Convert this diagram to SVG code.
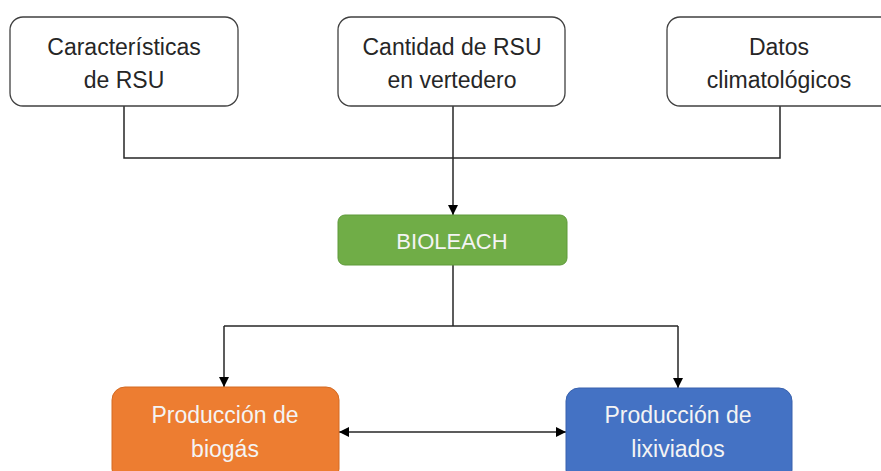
<svg xmlns="http://www.w3.org/2000/svg" width="881" height="471" viewBox="0 0 881 471">
<style>
.in{fill:#ffffff;stroke:#404040;stroke-width:1.3}
.t{font-family:"Liberation Sans",Arial,sans-serif;font-size:23px;text-anchor:middle;fill:#262626}
.w{fill:#f4f4f4}
.c{fill:none;stroke:#262626;stroke-width:1.5}
</style>
<defs>
<marker id="ah" viewBox="0 0 10 10" refX="10" refY="5" markerWidth="10" markerHeight="10" markerUnits="userSpaceOnUse" orient="auto-start-reverse">
<path d="M0,0 L10,5 L0,10 Z" fill="#000"/>
</marker>
</defs>
<rect width="881" height="471" fill="#fff"/>
<g id="connectors">
<path class="c" d="M124,106 V158 H780 V106"/>
<path class="c" d="M453,106 V215" marker-end="url(#ah)"/>
<path class="c" d="M453,265 V326"/>
<path class="c" d="M224,326 H678"/>
<path class="c" d="M224,326 V387" marker-end="url(#ah)"/>
<path class="c" d="M678,326 V388" marker-end="url(#ah)"/>
<path class="c" d="M339,432 H566" marker-start="url(#ah)" marker-end="url(#ah)"/>
</g>
<g id="caracteristicas">
<rect class="in" x="10" y="17" width="228" height="89" rx="13"/>
<text class="t" x="124" y="55">Características</text>
<text class="t" x="124" y="88">de RSU</text>
</g>
<g id="cantidad">
<rect class="in" x="338" y="17" width="227" height="89" rx="13"/>
<text class="t" x="452" y="55">Cantidad de RSU</text>
<text class="t" x="452" y="88">en vertedero</text>
</g>
<g id="datos">
<rect class="in" x="667" y="17" width="228" height="89" rx="13"/>
<text class="t" x="779" y="55">Datos</text>
<text class="t" x="779" y="88">climatológicos</text>
</g>
<g id="bioleach">
<rect x="338" y="215" width="229" height="50" rx="7" fill="#70AD47" stroke="#5E9A3A" stroke-width="1"/>
<text class="t w" x="452" y="249" style="font-size:22px">BIOLEACH</text>
</g>
<g id="biogas">
<rect x="112" y="387" width="227" height="95" rx="13" fill="#ED7D31" stroke="#D46A22" stroke-width="1"/>
<text class="t w" x="225" y="423">Producción de</text>
<text class="t w" x="225" y="457">biogás</text>
</g>
<g id="lixiviados">
<rect x="566" y="388" width="226" height="95" rx="13" fill="#4472C4" stroke="#3861AD" stroke-width="1"/>
<text class="t w" x="678" y="423">Producción de</text>
<text class="t w" x="678" y="457">lixiviados</text>
</g>
</svg>
